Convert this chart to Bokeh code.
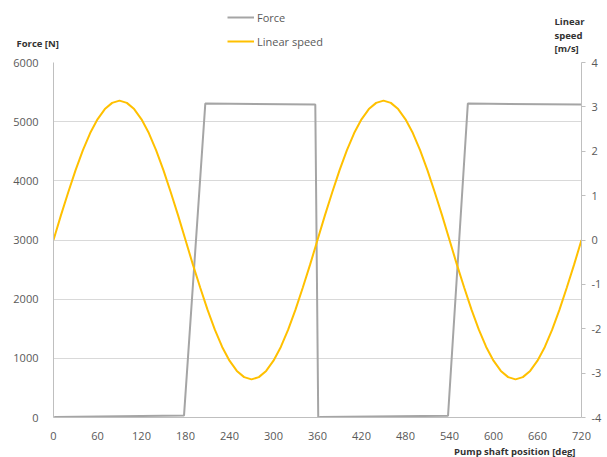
from bokeh.plotting import figure
from bokeh.models import (Range1d, LinearAxis, FixedTicker, Legend, LegendItem, Label, Title)
from bokeh.layouts import column
from bokeh.embed import file_html
from bokeh.resources import INLINE

# ---- data ----
force_deg = [0, 3, 178, 207, 357, 361, 364, 538, 565, 720]
force_n = [0, 10, 35, 5305, 5290, 0, 10, 30, 5305, 5290]

speed_deg = list(range(0, 730, 10))
speed_ms = [
    0, 0.55, 1.07, 1.57, 2.02, 2.41, 2.72, 2.95, 3.09, 3.14,
    3.09, 2.95, 2.72, 2.41, 2.02, 1.57, 1.07, 0.55, 0,
    -0.55, -1.07, -1.57, -2.02, -2.41, -2.72, -2.95, -3.09, -3.14,
    -3.09, -2.95, -2.72, -2.41, -2.02, -1.57, -1.07, -0.55,
    0, 0.55, 1.07, 1.57, 2.02, 2.41, 2.72, 2.95, 3.09, 3.14,
    3.09, 2.95, 2.72, 2.41, 2.02, 1.57, 1.07, 0.55, 0,
    -0.55, -1.07, -1.57, -2.02, -2.41, -2.72, -2.95, -3.09, -3.14,
    -3.09, -2.95, -2.72, -2.41, -2.02, -1.57, -1.07, -0.55, 0,
]

x_ticks = list(range(0, 721, 60))
y_ticks = list(range(0, 6001, 1000))
y2_ticks = list(range(-4, 5, 1))

series_names = ["Force", "Linear speed"]
series_colors = ["#a5a5a5", "#ffc000"]
left_title = "Force [N]"
right_title_lines = ["Linear", "speed", "[m/s]"]
x_title = "Pump shaft position [deg]"

FONT = "Open Sans"
TICK_COLOR = "#595959"
TITLE_COLOR = "#333333"
AXIS_COLOR = "#bfbfbf"
W = 607

# ---------- header (legend + axis titles) ----------
HEAD_H = 54
h = figure(width=W, height=HEAD_H, output_backend="svg", toolbar_location=None,
           x_range=Range1d(0, W), y_range=Range1d(0, HEAD_H),
           x_axis_type=None, y_axis_type=None,
           min_border_left=0, min_border_right=0, min_border_top=0, min_border_bottom=0)
h.outline_line_color = None
h.grid.visible = False
h.frame_align = False

nan = float("nan")
dummy = [h.line([nan], [nan], line_color=c, line_width=2) for c in series_colors]
legend = Legend(items=[LegendItem(label=n, renderers=[r]) for n, r in zip(series_names, dummy)],
                location=(227, 4), orientation="vertical",
                glyph_width=27, glyph_height=18, label_height=18, spacing=6,
                label_standoff=3, padding=0, margin=0,
                border_line_color=None, background_fill_alpha=0,
                label_text_font=FONT, label_text_font_size="11px",
                label_text_color=TICK_COLOR)
h.add_layout(legend)

def add_label(fig, text, x, y, align="left"):
    fig.add_layout(Label(x=x, y=y, x_units="screen", y_units="screen", text=text,
                         text_font=FONT, text_font_size="9.5px", text_font_style="bold",
                         text_color=TITLE_COLOR, text_align=align, text_baseline="middle"))

add_label(h, left_title, 16, HEAD_H - 43)
for t, py in zip(right_title_lines, [21, 34.5, 48]):
    add_label(h, t, 554, HEAD_H - py)

# ---------- main chart ----------
p = figure(width=W, height=457 - HEAD_H, output_backend="svg", toolbar_location=None,
           x_range=Range1d(0, 720), y_range=Range1d(0, 6000),
           min_border_left=53, min_border_right=26, min_border_top=8, min_border_bottom=39)
p.outline_line_color = None
p.frame_align = False
p.extra_y_ranges = {"speed": Range1d(-4, 4)}

p.xgrid.visible = False
p.ygrid.ticker = FixedTicker(ticks=y_ticks)
p.ygrid.grid_line_color = "#d9d9d9"
p.ygrid.grid_line_width = 1

xa = p.xaxis[0]
xa.ticker = FixedTicker(ticks=x_ticks)
xa.axis_line_color = AXIS_COLOR
xa.major_tick_line_color = None
xa.minor_tick_line_color = None
xa.major_label_standoff = 8
xa.major_label_text_font = FONT
xa.major_label_text_font_size = "11px"
xa.major_label_text_color = TICK_COLOR

ya = p.yaxis[0]
ya.ticker = FixedTicker(ticks=y_ticks)
ya.axis_line_color = AXIS_COLOR
ya.major_tick_line_color = None
ya.minor_tick_line_color = None
ya.major_label_standoff = 9
ya.major_label_text_font = FONT
ya.major_label_text_font_size = "11px"
ya.major_label_text_color = TICK_COLOR

ra = LinearAxis(y_range_name="speed", ticker=FixedTicker(ticks=y2_ticks))
ra.axis_line_color = AXIS_COLOR
ra.major_tick_line_color = AXIS_COLOR
ra.major_tick_out = 4
ra.major_tick_in = 0
ra.minor_tick_line_color = None
ra.major_label_standoff = 6
ra.major_label_text_font = FONT
ra.major_label_text_font_size = "11px"
ra.major_label_text_color = TICK_COLOR
ra.major_label_overrides = {t: str(t) for t in y2_ticks}
p.add_layout(ra, "right")

p.line(force_deg, force_n, line_color=series_colors[0], line_width=2)
p.line(speed_deg, speed_ms, line_color=series_colors[1], line_width=2, y_range_name="speed")

p.add_layout(Title(text=x_title, align="right", offset=6, standoff=0,
                   text_font=FONT, text_font_size="9.5px", text_font_style="bold",
                   text_color=TITLE_COLOR), "below")

layout = column(h, p, spacing=0)
open("out.html", "w").write(file_html(layout, INLINE))
